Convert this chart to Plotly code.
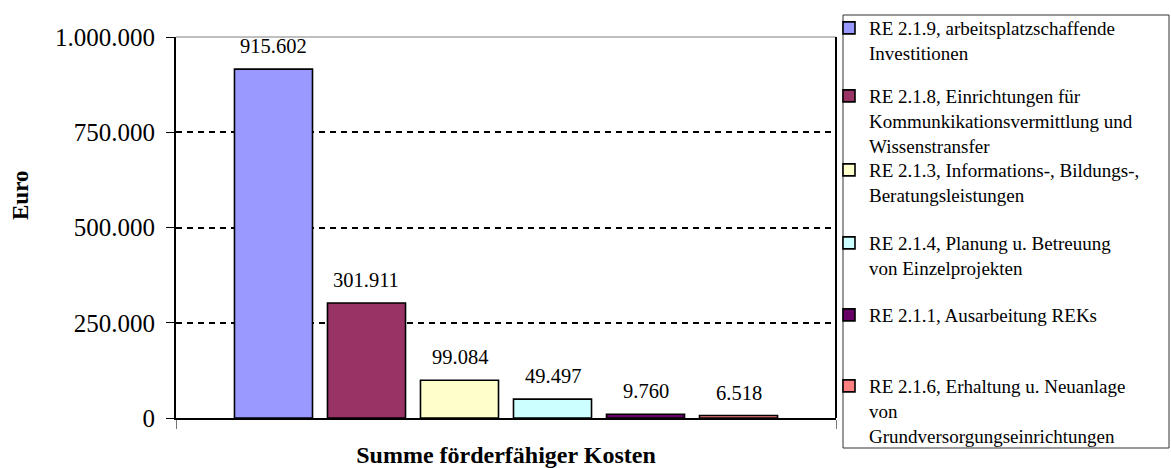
import plotly.graph_objects as go

# ---------------- data ----------------
category = ["Summe förderfähiger Kosten"]
series_names = [
    "RE 2.1.9, arbeitsplatzschaffende<br>Investitionen",
    "RE 2.1.8, Einrichtungen für<br>Kommunkikationsvermittlung und<br>Wissenstransfer",
    "RE 2.1.3, Informations-, Bildungs-,<br>Beratungsleistungen",
    "RE 2.1.4, Planung u. Betreuung<br>von Einzelprojekten",
    "RE 2.1.1, Ausarbeitung REKs",
    "RE 2.1.6, Erhaltung u. Neuanlage<br>von<br>Grundversorgungseinrichtungen",
]
values = [915602, 301911, 99084, 49497, 9760, 6518]
colors = ["#9999FF", "#993366", "#FFFFCC", "#CCFFFF", "#660066", "#FF8080"]
y_tickvals = [0, 250000, 500000, 750000, 1000000]
y_ticktext = ["0", "250.000", "500.000", "750.000", "1.000.000"]
y_title = "Euro"

# ---------------- style ----------------
FONT = "Liberation Serif, Times New Roman, serif"
W, H = 1171, 468
ML, MR, MT, MB = 176, 335, 37, 50
PW, PH = W - ML - MR, H - MT - MB
BARGAP, BARGROUPGAP = 0.1545, 0.161
legend_first_line_px = [30, 98, 172, 245, 317, 388]


def px_x(p):
    return (p - ML) / PW


def px_y(p):
    return (H - MB - p) / PH


def fmt(v):
    return f"{v:,}".replace(",", ".")


fig = go.Figure()
for i, (name, v, c) in enumerate(zip(series_names, values, colors)):
    fig.add_trace(go.Bar(
        x=category, y=[v], name=name,
        marker=dict(color=c, line=dict(color="black", width=1.6)),
        legend="legend" if i == 0 else f"legend{i + 1}",
        hoverinfo="skip",
    ))

n = len(values)
slot = (1 - BARGAP) / n
annotations = []
for i, v in enumerate(values):
    annotations.append(dict(
        x=-0.5 + BARGAP / 2 + slot * (i + 0.5), xref="x",
        y=v, yref="y", yanchor="middle", yshift=23,
        text=fmt(v), showarrow=False,
        font=dict(family=FONT, size=20.5, color="black"),
    ))
annotations.append(dict(
    x=px_x(20), y=px_y(196), xref="paper", yref="paper",
    xanchor="center", yanchor="middle",
    text=f"<b>{y_title}</b>", textangle=-90, showarrow=False,
    font=dict(family=FONT, size=23, color="black"),
))

layout_legends = {}
for i, yc in enumerate(legend_first_line_px):
    key = "legend" if i == 0 else f"legend{i + 1}"
    layout_legends[key] = dict(
        x=px_x(829), y=px_y(yc - 21), xanchor="left", yanchor="top",
        bgcolor="rgba(0,0,0,0)", borderwidth=0,
        font=dict(family=FONT, size=19, color="black"),
        valign="top", itemwidth=30, itemclick=False, itemdoubleclick=False,
    )

fig.update_layout(
    width=W, height=H, autosize=False,
    margin=dict(l=ML, r=MR, t=MT, b=MB, pad=0, autoexpand=False),
    paper_bgcolor="white", plot_bgcolor="white",
    barmode="group", bargap=BARGAP, bargroupgap=BARGROUPGAP,
    separators=",.",
    showlegend=True,
    font=dict(family=FONT, color="black"),
    annotations=annotations,
    shapes=[
        dict(type="line", xref="paper", yref="paper", x0=0, x1=1, y0=1, y1=1,
             line=dict(color="#808080", width=1), layer="below"),
        dict(type="line", xref="paper", yref="paper", x0=1, x1=1, y0=0, y1=1,
             line=dict(color="black", width=2), layer="above"),
        dict(type="rect", xref="paper", yref="paper",
             x0=px_x(843), x1=px_x(1169), y0=px_y(448), y1=px_y(15),
             line=dict(color="#333333", width=1), fillcolor="rgba(0,0,0,0)",
             layer="below"),
    ],
    xaxis=dict(
        range=[-0.5, 0.5], showticklabels=False,
        ticks="outside", tickson="boundaries", ticklen=9, tickwidth=1,
        tickcolor="#777777",
        showline=True, linecolor="black", linewidth=2,
        showgrid=False, zeroline=False,
        title=dict(text=f"<b>{category[0]}</b>", standoff=29,
                   font=dict(family=FONT, size=24, color="black")),
    ),
    yaxis=dict(
        range=[0, 1000000], tickvals=y_tickvals, ticktext=y_ticktext,
        ticks="outside", ticklen=8, tickwidth=1, tickcolor="black",
        tickfont=dict(family=FONT, size=25, color="black"),
        ticklabelstandoff=6,
        showline=True, linecolor="black", linewidth=2,
        showgrid=True, gridcolor="black", gridwidth=2, griddash="6px,5px",
        zeroline=False,
    ),
    **layout_legends,
)

fig.write_html(
    "out.html",
    config={"displayModeBar": False},
    post_script="document.body.style.margin='0';document.body.style.overflow='hidden';",
)
